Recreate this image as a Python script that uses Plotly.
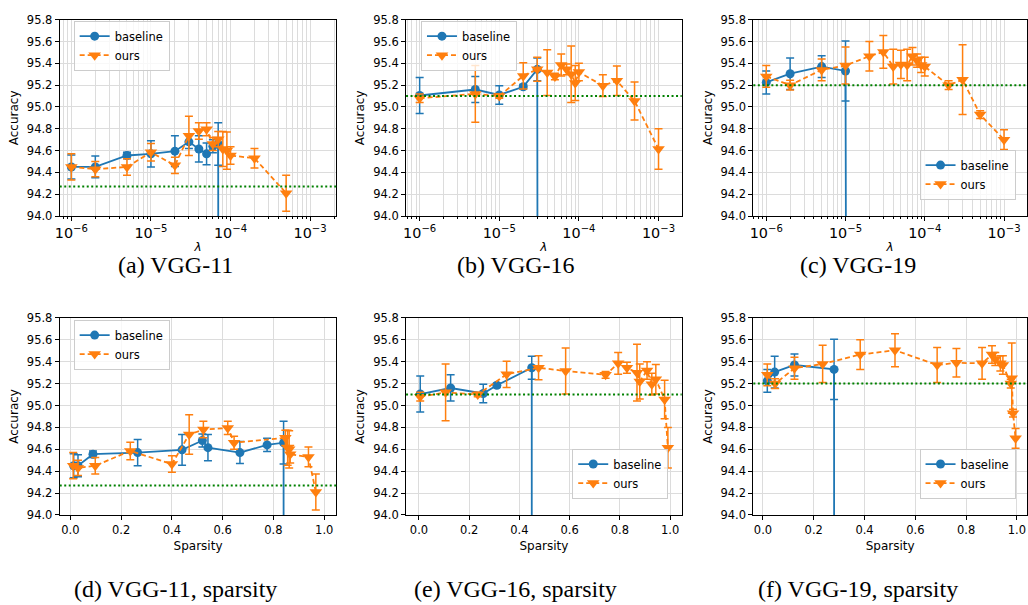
import plotly.graph_objects as go

# ---------------- data ----------------
# VGG-11
lam11_base = [1e-6, 2e-6, 5e-6, 1e-5, 2e-5, 3e-5, 4e-5, 5e-5, 6e-5, 7e-5, 8e-5]
acc11_base = [94.45, 94.45, 94.555, 94.57, 94.595, 94.68, 94.615, 94.57, 94.64, 94.66, 10.0]
err11_base = [0.11, 0.10, 0.03, 0.12, 0.14, 0.06, 0.12, 0.10, 0.06, 0.195, 0.0]
sp11_base = [0.013, 0.03, 0.089, 0.265, 0.44, 0.52, 0.542, 0.668, 0.775, 0.84, 0.845]

lam11_ours = [1e-6, 2e-6, 5e-6, 1e-5, 2e-5, 3e-5, 4e-5, 5e-5, 6e-5, 7e-5, 8e-5, 9e-5, 1e-4, 2e-4, 5e-4]
acc11_ours = [94.45, 94.43, 94.45, 94.585, 94.465, 94.735, 94.78, 94.795, 94.66, 94.705, 94.615, 94.60, 94.555, 94.53, 94.21]
err11_ours = [0.12, 0.07, 0.075, 0.08, 0.075, 0.18, 0.075, 0.06, 0.06, 0.07, 0.16, 0.17, 0.08, 0.09, 0.165]
sp11_ours = [0.011, 0.03, 0.098, 0.236, 0.40, 0.468, 0.524, 0.62, 0.645, 0.847, 0.856, 0.862, 0.866, 0.938, 0.967]

# VGG-16
lam16_base = [1e-6, 5e-6, 1e-5, 2e-5, 3e-5, 4e-5]
acc16_base = [95.105, 95.16, 95.11, 95.185, 95.345, 10.0]
err16_base = [0.165, 0.12, 0.085, 0.02, 0.105, 0.0]
sp16_base = [0.005, 0.126, 0.256, 0.31, 0.449, 0.456]

lam16_ours = [1e-6, 5e-6, 1e-5, 2e-5, 3e-5, 4e-5, 5e-5, 6e-5, 7e-5, 8e-5, 9e-5, 1e-4, 2e-4, 3e-4, 5e-4, 1e-3]
acc16_ours = [95.08, 95.12, 95.10, 95.285, 95.345, 95.315, 95.28, 95.385, 95.345, 95.30, 95.22, 95.32, 95.195, 95.24, 95.055, 94.615]
err16_ours = [0.04, 0.26, 0.02, 0.12, 0.11, 0.21, 0.03, 0.10, 0.05, 0.26, 0.16, 0.08, 0.10, 0.135, 0.175, 0.185]
sp16_ours = [0.005, 0.106, 0.234, 0.349, 0.476, 0.584, 0.743, 0.793, 0.828, 0.868, 0.879, 0.908, 0.927, 0.943, 0.978, 0.991]

# VGG-19
lam19_base = [1e-6, 2e-6, 5e-6, 1e-5, 2e-5]
acc19_base = [95.225, 95.305, 95.37, 95.33, 10.0]
err19_base = [0.105, 0.145, 0.10, 0.275, 0.0]
sp19_base = [0.017, 0.046, 0.124, 0.28, 0.285]

lam19_ours = [1e-6, 2e-6, 5e-6, 1e-5, 2e-5, 3e-5, 4e-5, 5e-5, 6e-5, 7e-5, 8e-5, 9e-5, 1e-4, 2e-4, 3e-4, 5e-4, 1e-3]
acc19_ours = [95.28, 95.20, 95.34, 95.38, 95.465, 95.505, 95.37, 95.39, 95.385, 95.465, 95.425, 95.385, 95.37, 95.20, 95.25, 94.93, 94.70]
err19_ours = [0.10, 0.045, 0.10, 0.17, 0.135, 0.15, 0.16, 0.13, 0.145, 0.08, 0.06, 0.07, 0.085, 0.04, 0.32, 0.035, 0.09]
sp19_ours = [0.017, 0.048, 0.124, 0.235, 0.383, 0.52, 0.686, 0.762, 0.863, 0.902, 0.915, 0.935, 0.945, 0.976, 0.98, 0.985, 0.995]

reference_acc = [94.27, 95.10, 95.20]   # dense-model accuracy (green dotted)
captions = ["(a) VGG-11", "(b) VGG-16", "(c) VGG-19",
            "(d) VGG-11, sparsity", "(e) VGG-16, sparsity", "(f) VGG-19, sparsity"]
y_ticks = [94.0, 94.2, 94.4, 94.6, 94.8, 95.0, 95.2, 95.4, 95.6, 95.8]

# ---------------- style / layout ----------------
W, H = 1028, 605
BLUE, ORANGE, GREEN = "#1f77b4", "#ff7f0e", "#008000"
TICKFONT = dict(family="DejaVu Sans", size=11.5, color="#000")
TITLEFONT = dict(family="DejaVu Sans", size=12, color="#000")
GRID = "#dcdcdc"

cols_px = [(55, 333), (403, 680), (752, 1027)]
rows_px = [(13, 214), (318.3, 520)]
log_ranges = [(-6.146, -2.67), (-6.171, -2.709), (-6.163, -2.71)]
lin_ranges = [(-0.042, 1.048), (-0.0515, 1.046), (-0.038, 1.04)]

legend_pos = [  # (x, y) paper coords of legend top-left
    (69 / W, 1 - 14 / H), (418 / W, 1 - 14 / H), (919 / W, 1 - 146 / H),
    (69 / W, 1 - 320 / H), (570 / W, 1 - 452 / H), (919 / W, 1 - 452 / H),
]

series = [
    (lam11_base, acc11_base, err11_base, lam11_ours, acc11_ours, err11_ours),
    (lam16_base, acc16_base, err16_base, lam16_ours, acc16_ours, err16_ours),
    (lam19_base, acc19_base, err19_base, lam19_ours, acc19_ours, err19_ours),
    (sp11_base, acc11_base, err11_base, sp11_ours, acc11_ours, err11_ours),
    (sp16_base, acc16_base, err16_base, sp16_ours, acc16_ours, err16_ours),
    (sp19_base, acc19_base, err19_base, sp19_ours, acc19_ours, err19_ours),
]

fig = go.Figure()
layout = dict(width=W, height=H, margin=dict(l=0, r=0, t=0, b=0),
              paper_bgcolor="white", plot_bgcolor="white", showlegend=True)
annotations = []
shapes = []

for i in range(6):
    r, c = divmod(i, 3)
    n = "" if i == 0 else str(i + 1)
    xa, ya = "x" + n, "y" + n
    leg = "legend" + n
    xb, yb, eb, xo, yo, eo = series[i]
    fig.add_trace(go.Scatter(
        x=xb, y=yb, xaxis=xa, yaxis=ya, name="baseline", legend=leg,
        mode="lines+markers", line=dict(color=BLUE, width=1.8),
        marker=dict(symbol="circle", size=9, color=BLUE),
        error_y=dict(type="data", array=eb, width=4, thickness=1.5, color=BLUE),
    ))
    fig.add_trace(go.Scatter(
        x=xo, y=yo, xaxis=xa, yaxis=ya, name="ours", legend=leg,
        mode="lines+markers", line=dict(color=ORANGE, width=1.8, dash="5px,3px"),
        marker=dict(symbol="triangle-down", size=11, color=ORANGE),
        error_y=dict(type="data", array=eo, width=4, thickness=1.5, color=ORANGE),
    ))
    shapes.append(dict(type="line", xref=xa + " domain", yref=ya, x0=0, x1=1,
                       y0=reference_acc[c], y1=reference_acc[c], layer="above",
                       line=dict(color=GREEN, width=2, dash="2px,2.5px")))

    l, rr = cols_px[c]
    t, b = rows_px[r]
    xdom = [l / W, rr / W]
    ydom = [1 - b / H, 1 - t / H]
    common = dict(showline=True, mirror=True, linecolor="#000", linewidth=1,
                  ticks="outside", ticklen=4, tickcolor="#000", tickfont=TICKFONT,
                  showgrid=True, gridcolor=GRID, gridwidth=1, zeroline=False)
    if r == 0:
        xaxis = dict(type="log", range=list(log_ranges[c]), dtick=1,
                     exponentformat="power", showexponent="all",
                     minor=dict(dtick="D1", showgrid=True, gridcolor=GRID, gridwidth=1,
                                ticks="outside", ticklen=2, tickcolor="#000"),
                     title=dict(text="<i>λ</i>", font=TITLEFONT, standoff=2),
                     **common)
    else:
        xaxis = dict(type="linear", range=list(lin_ranges[c]), dtick=0.2, tick0=0,
                     tickformat=".1f",
                     title=dict(text="Sparsity", font=TITLEFONT, standoff=5),
                     **common)
    xaxis.update(domain=xdom, anchor=ya)
    yaxis = dict(range=[94.0, 95.8], tickvals=y_ticks, tickformat=".1f",
                 title=dict(text="Accuracy", font=TITLEFONT, standoff=5),
                 domain=ydom, anchor=xa, **common)
    layout["xaxis" + n] = xaxis
    layout["yaxis" + n] = yaxis
    lx, ly = legend_pos[i]
    layout[leg] = dict(x=lx, y=ly, xanchor="left", yanchor="top",
                       bgcolor="rgba(255,255,255,0.8)", bordercolor="#cccccc", borderwidth=1,
                       font=dict(family="DejaVu Sans", size=11.5, color="#000"),
                       itemwidth=30, tracegroupgap=0)
    cap_x = [171, 513, 857][c] / W
    cap_y = 1 - [264, 596][r] / H
    annotations.append(dict(text=captions[i], x=cap_x, y=cap_y, xref="paper", yref="paper",
                            xanchor="center", yanchor="middle", showarrow=False,
                            font=dict(family="Liberation Serif", size=24, color="#000")))

layout["annotations"] = annotations
layout["shapes"] = shapes
fig.update_layout(**layout)
fig.write_html("out.html")
